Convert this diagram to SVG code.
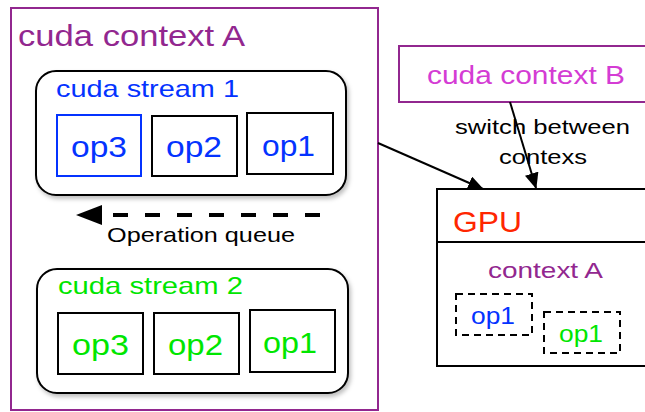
<svg xmlns="http://www.w3.org/2000/svg" width="645" height="412" viewBox="0 0 645 412">
<style>
text{font-family:"Liberation Sans",Arial,sans-serif}
.ctx{fill:#fff;stroke:#92278F;stroke-width:2}
.stream{fill:#fff;stroke:#000;stroke-width:2}
.op{fill:#fff;stroke:#000;stroke-width:2}
.opt{font-size:30px}
.blue{fill:#0433FF}
.green{fill:#00E600}
.conn{stroke:#000;stroke-width:2;fill:none}
.dbox{fill:none;stroke:#000;stroke-width:2;stroke-dasharray:7 5}
</style>
<defs>
<marker id="ah" markerWidth="16" markerHeight="14" refX="15" refY="7" orient="auto" markerUnits="userSpaceOnUse" viewBox="0 0 16 14">
<path d="M0,0 L16,7 L0,14 z" fill="#000"/>
</marker>
<marker id="ahb" markerWidth="26" markerHeight="20" refX="25" refY="10" orient="auto" markerUnits="userSpaceOnUse" viewBox="0 0 26 20">
<path d="M0,0 L26,10 L0,20 z" fill="#000"/>
</marker>
<filter id="sh" x="-10%" y="-10%" width="130%" height="130%">
<feDropShadow dx="2" dy="3" stdDeviation="2" flood-color="#000" flood-opacity="0.25"/>
</filter>
</defs>
<rect width="645" height="412" fill="#fff"/>
<g id="contextA">
<rect class="ctx" x="11" y="8" width="367" height="402"/>
<text x="18" y="46" font-size="30" fill="#92278F" textLength="227" lengthAdjust="spacingAndGlyphs">cuda context A</text>
</g>
<g id="stream1">
<rect class="stream" x="36" y="71" width="310" height="124" rx="20" filter="url(#sh)"/>
<text x="56" y="97" font-size="24" class="blue" textLength="183" lengthAdjust="spacingAndGlyphs">cuda stream 1</text>
<rect class="op" x="57" y="115" width="84" height="61" style="stroke:#0433FF"/>
<text x="71" y="157" class="opt blue" textLength="56" lengthAdjust="spacingAndGlyphs">op3</text>
<rect class="op" x="152" y="116" width="85" height="60"/>
<text x="166" y="157" class="opt blue" textLength="56" lengthAdjust="spacingAndGlyphs">op2</text>
<rect class="op" x="247" y="113" width="86" height="61"/>
<text x="262" y="156" class="opt blue" textLength="53" lengthAdjust="spacingAndGlyphs">op1</text>
</g>
<g id="stream2">
<rect class="stream" x="37" y="269" width="311" height="124" rx="20" filter="url(#sh)"/>
<text x="58" y="294" font-size="24" class="green" textLength="185" lengthAdjust="spacingAndGlyphs">cuda stream 2</text>
<rect class="op" x="58" y="313" width="85" height="61"/>
<text x="72" y="355" class="opt green" textLength="57" lengthAdjust="spacingAndGlyphs">op3</text>
<rect class="op" x="154" y="313" width="85" height="61"/>
<text x="168" y="355" class="opt green" textLength="55" lengthAdjust="spacingAndGlyphs">op2</text>
<rect class="op" x="250" y="310" width="85" height="62"/>
<text x="263" y="353" class="opt green" textLength="54" lengthAdjust="spacingAndGlyphs">op1</text>
</g>
<g id="contextB">
<rect class="ctx" x="399" y="46" width="260" height="56"/>
<text x="427" y="84" font-size="25" fill="#D43CD4" textLength="198" lengthAdjust="spacingAndGlyphs">cuda context B</text>
</g>
<g id="gpu">
<rect x="437" y="189" width="220" height="177" fill="#fff" stroke="#000" stroke-width="2"/>
<line x1="437" y1="242" x2="657" y2="242" stroke="#000" stroke-width="2"/>
<text x="453" y="232" font-size="30" fill="#FF2600" textLength="69" lengthAdjust="spacingAndGlyphs">GPU</text>
<text x="488" y="278" font-size="22" fill="#92278F" textLength="115" lengthAdjust="spacingAndGlyphs">context A</text>
<rect class="dbox" x="456" y="294" width="76" height="41"/>
<text x="471" y="324" font-size="24" class="blue" textLength="44" lengthAdjust="spacingAndGlyphs">op1</text>
<rect class="dbox" x="544" y="312" width="76" height="41"/>
<text x="559" y="342" font-size="24" class="green" textLength="44" lengthAdjust="spacingAndGlyphs">op1</text>
</g>
<g id="connectors">
<line x1="320" y1="215" x2="77" y2="215" stroke="#000" stroke-width="4" stroke-dasharray="15 17" marker-end="url(#ahb)"/>
<text x="107" y="242" font-size="21" fill="#000" textLength="188" lengthAdjust="spacingAndGlyphs">Operation queue</text>
<line class="conn" x1="378" y1="143" x2="483" y2="189" marker-end="url(#ah)"/>
<line class="conn" x1="510" y1="102" x2="536" y2="188" marker-end="url(#ah)"/>
<text x="455" y="134" font-size="21" fill="#000" textLength="175" lengthAdjust="spacingAndGlyphs">switch between</text>
<text x="499" y="164" font-size="21" fill="#000" textLength="88" lengthAdjust="spacingAndGlyphs">contexs</text>
</g>
</svg>
